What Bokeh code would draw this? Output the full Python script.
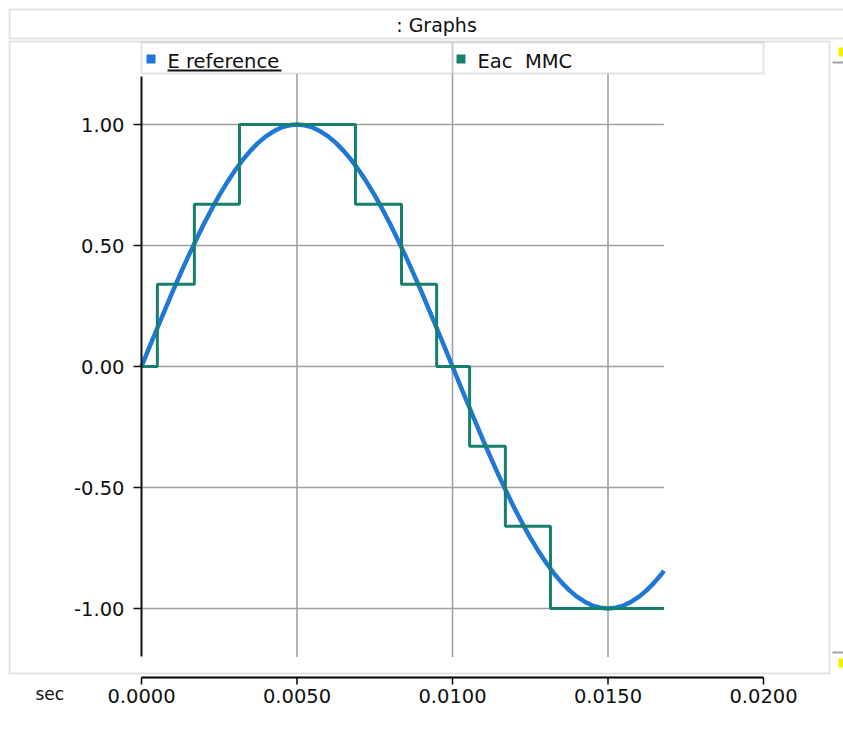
from bokeh.plotting import figure
from bokeh.layouts import column
from bokeh.models import (Range1d, LinearAxis, FixedTicker, PrintfTickFormatter,
                          BoxAnnotation, Label)
from bokeh.embed import file_html
from bokeh.resources import INLINE

# ---------------- data ----------------
title_text = ": Graphs"
x_unit = "sec"
series_names = ["E reference", "Eac\u00a0\u00a0MMC"]

# E reference: sampled every 0.25 ms (seconds)
t_ref = [0.00000, 0.00025, 0.00050, 0.00075, 0.00100, 0.00125, 0.00150, 0.00175,
         0.00200, 0.00225, 0.00250, 0.00275, 0.00300, 0.00325, 0.00350, 0.00375,
         0.00400, 0.00425, 0.00450, 0.00475, 0.00500, 0.00525, 0.00550, 0.00575,
         0.00600, 0.00625, 0.00650, 0.00675, 0.00700, 0.00725, 0.00750, 0.00775,
         0.00800, 0.00825, 0.00850, 0.00875, 0.00900, 0.00925, 0.00950, 0.00975,
         0.01000, 0.01025, 0.01050, 0.01075, 0.01100, 0.01125, 0.01150, 0.01175,
         0.01200, 0.01225, 0.01250, 0.01275, 0.01300, 0.01325, 0.01350, 0.01375,
         0.01400, 0.01425, 0.01450, 0.01475, 0.01500, 0.01525, 0.01550, 0.01575,
         0.01600, 0.01625, 0.01650, 0.01675, 0.01680]
e_ref = [0.000, 0.079, 0.156, 0.233, 0.309, 0.383, 0.454, 0.522,
         0.588, 0.649, 0.707, 0.760, 0.809, 0.853, 0.891, 0.924,
         0.951, 0.972, 0.988, 0.997, 1.000, 0.997, 0.988, 0.972,
         0.951, 0.924, 0.891, 0.853, 0.809, 0.760, 0.707, 0.649,
         0.588, 0.522, 0.454, 0.383, 0.309, 0.233, 0.156, 0.079,
         0.000, -0.079, -0.156, -0.233, -0.309, -0.383, -0.454, -0.522,
         -0.588, -0.649, -0.707, -0.760, -0.809, -0.853, -0.891, -0.924,
         -0.951, -0.972, -0.988, -0.997, -1.000, -0.997, -0.988, -0.972,
         -0.951, -0.924, -0.891, -0.853, -0.844]

# Eac MMC: staircase, switching instants (s) and levels
t_mmc = [0.0000, 0.00051, 0.00170, 0.00315, 0.00688, 0.00836, 0.00949,
         0.01055, 0.01170, 0.01315, 0.0168]
e_mmc = [0.00, 0.34, 0.67, 1.00, 0.67, 0.34, 0.00, -0.33, -0.66, -1.00, -1.00]

x_ticks = [0.0, 0.005, 0.010, 0.015, 0.020]
y_ticks = [-1.0, -0.5, 0.0, 0.5, 1.0]
y_axis_bounds = [-1.2, 1.2]
y_grid_top = 1.21

# ---------------- styles ----------------
BLUE = "#1f77d6"
GREEN = "#17806d"
GRID = "#a0a0a0"
FRAME = "#a0a0a0"
FONT = "DejaVu Sans"
INK = "#111111"

W, H = 843, 750
PX_X = 31100.0   # pixels per second
PX_Y = 242.0     # pixels per unit
X0, Y1 = 141, 124   # pixel of t=0 and of value 1.0
H_MAIN = 675        # height of the graph part; the time axis strip sits below
H_AXIS = H - H_MAIN
RULE_ROW = 2        # row of the time-axis rule inside the strip
TICK_LEN = 7

x_range = Range1d(-X0 / PX_X, (W - X0) / PX_X)


def cbox(left, right, top, bottom, **kw):
    return BoxAnnotation(left=left, right=right, top=top, bottom=bottom,
                         left_units="canvas", right_units="canvas",
                         top_units="canvas", bottom_units="canvas", **kw)


def clabel(x, y, text, size, align="left", baseline="middle"):
    return Label(x=x, y=y, x_units="canvas", y_units="canvas", text=text,
                 text_align=align, text_baseline=baseline, text_font=FONT,
                 text_font_size=size, text_color=INK)


# ================= graph part =================
p = figure(width=W, height=H_MAIN, output_backend="svg", toolbar_location=None,
           x_range=x_range,
           y_range=Range1d(1 - (H_MAIN - Y1) / PX_Y, 1 + Y1 / PX_Y),
           x_axis_type=None, y_axis_type=None,
           min_border=0, min_border_left=0, min_border_right=0,
           min_border_top=0, min_border_bottom=0, outline_line_color=None,
           background_fill_color="white", border_fill_color="white")

yaxis = LinearAxis(ticker=FixedTicker(ticks=y_ticks),
                   formatter=PrintfTickFormatter(format="%.2f"),
                   bounds=tuple(y_axis_bounds), fixed_location=0.0)
yaxis.axis_line_color = INK
yaxis.axis_line_width = 2
yaxis.major_tick_line_color = INK
yaxis.major_tick_line_width = 1.5
yaxis.major_tick_out = 8
yaxis.major_tick_in = 0
yaxis.minor_tick_line_color = None
yaxis.major_label_standoff = 9
yaxis.major_label_text_font = FONT
yaxis.major_label_text_font_size = "19.5px"
yaxis.major_label_text_color = INK
p.add_layout(yaxis, "left")

# grid lines (limited to the data window)
t_end = t_ref[-1]
p.segment(x0=[t_ref[0]] * len(y_ticks), x1=[t_end] * len(y_ticks),
          y0=y_ticks, y1=y_ticks, line_color=GRID, line_width=1.6)
vx = [x for x in x_ticks if 0 < x <= t_end]
p.segment(x0=vx, x1=vx, y0=[y_axis_bounds[0]] * len(vx), y1=[y_grid_top] * len(vx),
          line_color=GRID, line_width=1.6)

# series
p.line(t_ref, e_ref, line_color=BLUE, line_width=4.5)
p.step(t_mmc, e_mmc, mode="after", line_color=GREEN, line_width=3)

# title bar
p.add_layout(cbox(9, 860, 9, 38, fill_alpha=0, line_color=FRAME, line_width=2))
p.add_layout(clabel(436, 24, title_text, "19px", align="center"))
# graph panel frame
p.add_layout(cbox(9, 829, 41, 673, fill_alpha=0, line_color=FRAME, line_width=2))
# legend boxes
p.add_layout(cbox(141, 452, 42, 73, fill_alpha=0, line_color=FRAME, line_width=2))
p.add_layout(cbox(452, 763, 42, 73, fill_alpha=0, line_color=FRAME, line_width=2))
p.add_layout(cbox(146, 155, 54, 63, fill_color=BLUE, fill_alpha=1, line_color=None))
p.add_layout(cbox(456, 465, 54, 63, fill_color=GREEN, fill_alpha=1, line_color=None))
p.add_layout(clabel(167, 61, series_names[0], "19.5px"))
p.add_layout(clabel(477, 61, series_names[1], "19.5px"))
p.add_layout(cbox(167, 281, 69, 71, fill_color=INK, fill_alpha=1, line_color=None))
# scroll markers at the right edge
p.add_layout(cbox(832, 843, 61, 63, fill_color=FRAME, fill_alpha=1, line_color=None))
p.add_layout(cbox(832, 843, 651, 653, fill_color=FRAME, fill_alpha=1, line_color=None))
p.add_layout(cbox(838, 843, 47, 56, fill_color="#f5f000", fill_alpha=1, line_color=None))
p.add_layout(cbox(838, 843, 658, 667, fill_color="#f5f000", fill_alpha=1, line_color=None))

# ================= time-axis strip =================
# y of this strip is counted in pixel rows downward (0 = top row, negative below)
q = figure(width=W, height=H_AXIS, output_backend="svg", toolbar_location=None,
           x_range=x_range, y_range=Range1d(-H_AXIS, 0),
           x_axis_type=None, y_axis_type=None,
           min_border=0, min_border_left=0, min_border_right=0,
           min_border_top=0, min_border_bottom=0, outline_line_color=None,
           background_fill_color="white", border_fill_color="white")

q.segment(x0=[x_ticks[0]], x1=[x_ticks[-1]], y0=[-RULE_ROW], y1=[-RULE_ROW],
          line_color="black", line_width=2)
q.segment(x0=x_ticks, x1=x_ticks, y0=[-RULE_ROW] * len(x_ticks),
          y1=[-RULE_ROW - TICK_LEN] * len(x_ticks), line_color="black", line_width=1.5)

xaxis = LinearAxis(ticker=FixedTicker(ticks=x_ticks),
                   formatter=PrintfTickFormatter(format="%.4f"),
                   bounds=(x_ticks[0], x_ticks[-1]), fixed_location=-RULE_ROW)
xaxis.axis_line_color = None
xaxis.major_tick_line_color = None
xaxis.major_tick_out = TICK_LEN
xaxis.major_tick_in = 0
xaxis.minor_tick_line_color = None
xaxis.major_label_standoff = 4
xaxis.major_label_text_font = FONT
xaxis.major_label_text_font_size = "19.5px"
xaxis.major_label_text_color = INK
q.add_layout(xaxis, "below")

q.add_layout(clabel(35, 18, x_unit, "17px"))

layout = column(p, q, spacing=0)
open("out.html", "w").write(file_html(layout, INLINE))
